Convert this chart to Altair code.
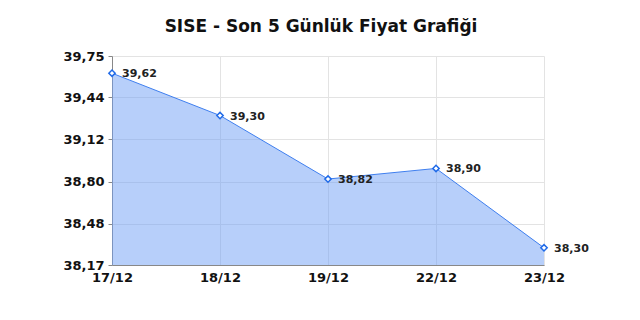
import altair as alt
import pandas as pd

dates = ["17/12", "18/12", "19/12", "22/12", "23/12"]
prices = [39.62, 39.30, 38.82, 38.90, 38.30]
y_ticks = [38.17, 38.48, 38.80, 39.12, 39.44, 39.75]

df = pd.DataFrame({"date": dates, "price": prices})
df["label"] = [f"{p:.2f}".replace(".", ",") for p in prices]

FONT = "DejaVu Sans"

x = alt.X("date:N", sort=dates,
          scale=alt.Scale(type="point", padding=0),
          axis=alt.Axis(title=None, labelAngle=0, labelFont=FONT, labelFontWeight="bold",
                        labelFontSize=13, labelColor="#111", labelPadding=6,
                        domainColor="#888", tickSize=0, grid=True, gridColor="#e3e3e3"))
y = alt.Y("price:Q",
          scale=alt.Scale(domain=[38.17, 39.75], zero=False, nice=False),
          axis=alt.Axis(title=None, values=y_ticks,
                        labelExpr="replace(format(datum.value, '.2f'), '.', ',')",
                        labelFont=FONT, labelFontWeight="bold", labelFontSize=13,
                        labelColor="#111", labelPadding=4, tickSize=4, tickColor="#888",
                        domainColor="#888", grid=True, gridColor="#e3e3e3"))

base = alt.Chart(df).encode(x=x, y=y)

area = base.mark_area(color="#6f9ff6", opacity=0.5, clip=True)
line = base.mark_line(color="#3f7fef", strokeWidth=1)
pts = base.mark_point(shape="diamond", filled=True, fill="white", stroke="#1f6ae8",
                      strokeWidth=1.5, size=40, opacity=1)
txt = base.mark_text(align="left", baseline="middle", dx=10, dy=1, font=FONT,
                     fontWeight="bold", fontSize=11, color="#222").encode(text="label:N")

chart = alt.layer(area, line, pts, txt).properties(
    width=432, height=209,
    title=alt.TitleParams("SISE - Son 5 Günlük Fiyat Grafiği", font=FONT, fontSize=17,
                          fontWeight="bold", color="#111", anchor="middle", offset=14, dx=-7),
    padding={"left": 112, "top": 56, "right": 96, "bottom": 55},
    autosize=alt.AutoSizeParams(type="none"),
    background="white",
).configure_view(stroke=None)

chart.save("out.html", embed_options={"renderer": "svg", "actions": False})
